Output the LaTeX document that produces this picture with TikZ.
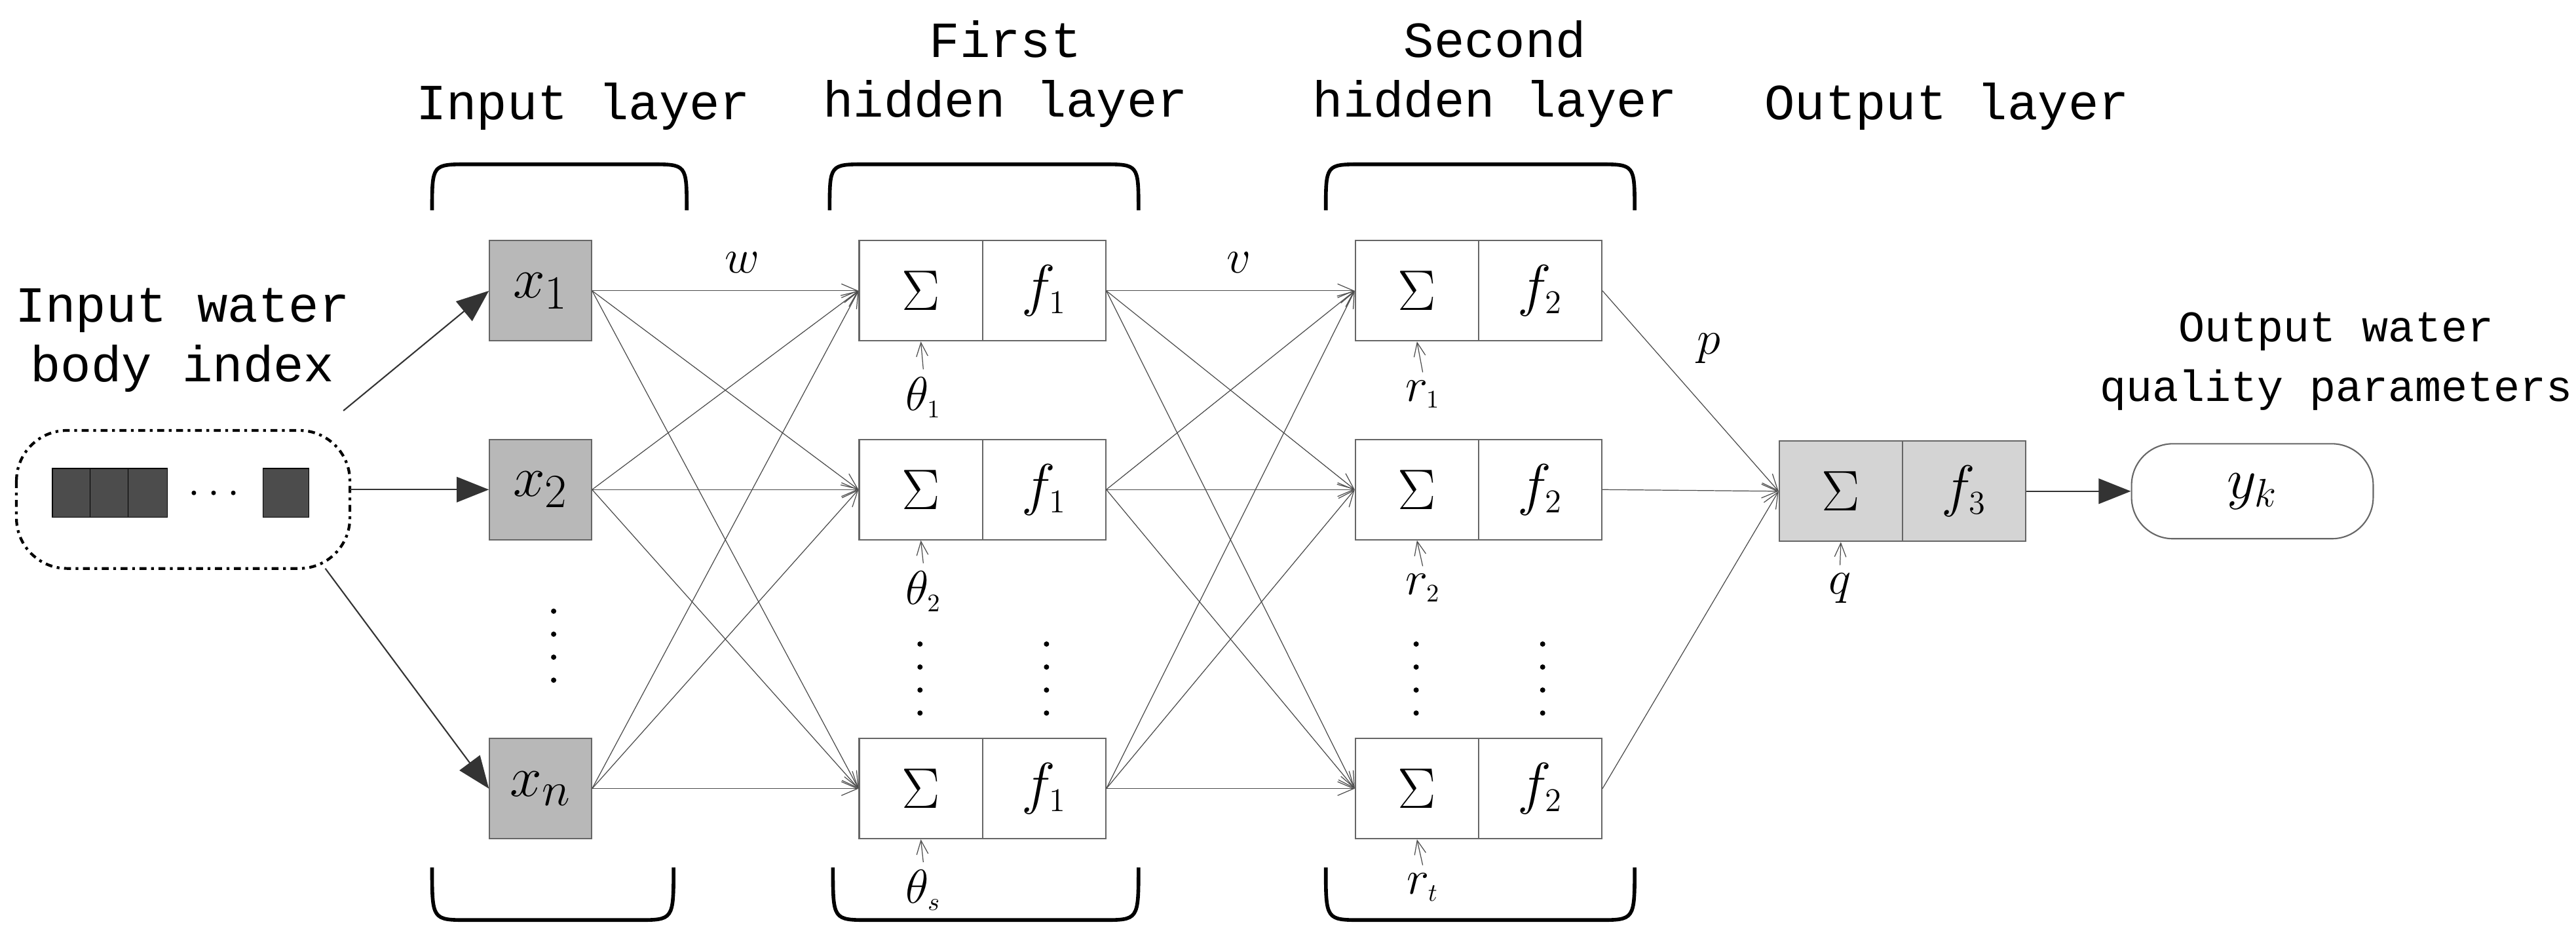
\documentclass[tikz,border=0pt]{standalone}
\usepackage{fontspec}
\setmainfont{Liberation Serif}
\newfontfamily\lbl{Liberation Mono}
\usetikzlibrary{arrows.meta}
\begin{document}
\begin{tikzpicture}[x=0.02508cm,y=-0.02508cm,
 cell/.style={draw=black!60,line width=0.6pt,minimum width=1.881cm,minimum height=1.53cm,inner sep=0pt,fill=white},
 gcell/.style={cell,fill=black!17},
 xin/.style={draw=black!60,line width=0.6pt,fill=black!28,minimum width=1.555cm,minimum height=1.53cm,inner sep=0pt,font=\fontsize{44}{44}\selectfont},
 sg/.style={font=\fontsize{34}{34}\selectfont},
 ff/.style={font=\fontsize{30}{30}\selectfont},
 con/.style={black!70,line width=0.35pt,-{Straight Barb[length=7pt,width=6pt]}},
 big/.style={line width=0.6pt,-{Triangle[length=14pt,width=11pt]},color=black!80},
 ttl/.style={font=\lbl\fontsize{22}{26}\selectfont,align=center},
 brk/.style={line width=1.6pt},
 sm/.style={font=\fontsize{22}{22}\selectfont},
 bias/.style={black!70,line width=0.35pt,-{Straight Barb[length=6pt,width=5pt]}}]
\useasboundingbox (0,0) rectangle (1568,578);
% titles
\node[ttl] (t0) at (111,207) {Input water\\body index};
\node[ttl] (t1) at (355,65) {Input layer};
\node[ttl] (t2) at (612,45) {First\\hidden layer};
\node[ttl] (t3) at (910,45) {Second\\hidden layer};
\node[ttl] (t4) at (1185,65) {Output layer};
\node[ttl,font=\lbl\fontsize{19}{26}\selectfont] (t5) at (1422,220) {Output water\\quality parameters};
% brackets
\foreach \a/\b in {263/418,505/693,807/995}{
 \draw[brk] (\a,128) .. controls (\a,100) .. (\a+22,100) -- (\b-22,100) .. controls (\b,100) .. (\b,128);}
\foreach \a/\b in {263/410,507/693,807/995}{
 \draw[brk] (\a,528) .. controls (\a,560) .. (\a+22,560) -- (\b-22,560) .. controls (\b,560) .. (\b,528);}
% input box
\draw[line width=1.2pt,dash dot,rounded corners=22pt] (10,262) rectangle (213,346);
\node[draw=black,fill=black!70,minimum width=0.58cm,minimum height=0.75cm,inner sep=0pt] (q1) at (43.5,300) {};
\node[draw=black,fill=black!70,minimum width=0.58cm,minimum height=0.75cm,inner sep=0pt] (q2) at (66.5,300) {};
\node[draw=black,fill=black!70,minimum width=0.6cm,minimum height=0.75cm,inner sep=0pt] (q3) at (90,300) {};
\node[draw=black,fill=black!70,minimum width=0.7cm,minimum height=0.75cm,inner sep=0pt] (q4) at (174,300) {};
\foreach \x in {118,130,142}\fill (\x,300) circle (1.4);
\coordinate (ib1) at (209,250);
\coordinate (ib2) at (213,298);
\coordinate (ib3) at (198,346);
% input nodes
\node[xin] (x1) at (329,177) {$x_{\scriptscriptstyle 1}$};
\node[xin] (x2) at (329,298) {$x_{\scriptscriptstyle 2}$};
\node[xin] (xn) at (329,480) {$x_{\scriptscriptstyle n}$};
\foreach \y in {372,386,400,414}\fill (337,\y) circle (1.6);
\draw[big] (ib1) -- (x1.west);
\draw[big] (ib2) -- (x2.west);
\draw[big] (ib3) -- (xn.west);
% hidden layers
\foreach \i/\y in {1/177,2/298,3/480}{
 \node[cell,sg] (a\i) at (560.5,\y) {$\Sigma$};
 \node[cell,ff] (fa\i) at (635.5,\y) {$f_{\scriptscriptstyle 1}$};
 \node[cell,sg] (b\i) at (862.5,\y) {$\Sigma$};
 \node[cell,ff] (fb\i) at (937.5,\y) {$f_{\scriptscriptstyle 2}$};
}
\foreach \x in {560,637,862,939}\foreach \y in {392,406,420,434}\fill (\x,\y) circle (1.6);
% output
\node[gcell,sg] (o) at (1120.5,299) {$\Sigma$};
\node[gcell,ff] (fo) at (1195.5,299) {$f_{\scriptscriptstyle 3}$};
\node[draw=black!60,line width=0.6pt,rounded corners=18pt,minimum width=3.69cm,minimum height=1.45cm,font=\fontsize{34}{34}\selectfont] (y) at (1371,299) {$y_{\scriptscriptstyle k}$};
\draw[big] (fo.east) -- (y.west);
% connections
\foreach \s in {x1,x2,xn}\foreach \t in {a1,a2,a3}\draw[con] (\s.east) -- (\t.west);
\foreach \s in {fa1,fa2,fa3}\foreach \t in {b1,b2,b3}\draw[con] (\s.east) -- (\t.west);
\foreach \s in {fb1,fb2,fb3}\draw[con] (\s.east) -- (o.west);
% biases
\node[sm] (th1) at (562,242) {$\theta_{\scriptscriptstyle 1}$};
\node[sm] (th2) at (562,360) {$\theta_{\scriptscriptstyle 2}$};
\node[sm] (th3) at (562,542) {$\theta_{\scriptscriptstyle s}$};
\node[sm] (r1) at (866,240) {$r_{\scriptscriptstyle 1}$};
\node[sm] (r2) at (866,358) {$r_{\scriptscriptstyle 2}$};
\node[sm] (r3) at (866,540) {$r_{\scriptscriptstyle t}$};
\node[sm] (qq) at (1120,358) {$q$};
\draw[bias] (th1.north) -- (a1.south);
\draw[bias] (th2.north) -- (a2.south);
\draw[bias] (th3.north) -- (a3.south);
\draw[bias] (r1.north) -- (b1.south);
\draw[bias] (r2.north) -- (b2.south);
\draw[bias] (r3.north) -- (b3.south);
\draw[bias] (qq.north) -- (o.south);
% weights
\node[sm] (w) at (452,160) {$w$};
\node[sm] (v) at (754,160) {$v$};
\node[sm] (p) at (1040,212) {$p$};
\end{tikzpicture}
\end{document}
